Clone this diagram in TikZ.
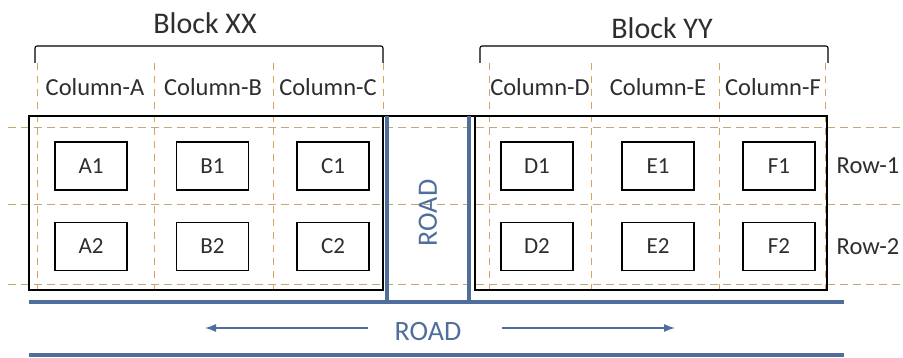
\documentclass[tikz,border=0pt]{standalone}
\usepackage{fontspec}
\setmainfont{Carlito}
\usetikzlibrary{arrows.meta}
\definecolor{roadblue}{HTML}{4F6E9C}
\definecolor{colorange}{HTML}{D9A25E}
\definecolor{rowtan}{HTML}{C4A878}
\definecolor{inkgrey}{HTML}{2E2E2E}
\tikzset{
  plot/.style={draw=black, line width=1.2pt, minimum width=72pt, minimum height=48pt, inner sep=0pt, text=inkgrey, font=\fontsize{23}{27}\selectfont},
  colline/.style={colorange, line width=0.9pt, dash pattern=on 7pt off 6pt},
  rowline/.style={rowtan, line width=0.9pt, dash pattern=on 8pt off 5pt},
  road/.style={roadblue, line width=4pt},
  roadarrow/.style={roadblue, line width=1.3pt, -{Latex[length=11pt,width=8pt]}},
  lbl/.style={text=inkgrey, font=\fontsize{24.5}{29}\selectfont, inner sep=0pt},
  blocklbl/.style={text=inkgrey, font=\fontsize{30}{35}\selectfont, inner sep=0pt},
  roadlbl/.style={text=roadblue, font=\fontsize{28}{33}\selectfont, inner sep=0pt}
}
\begin{document}
\begin{tikzpicture}[x=10pt,y=-10pt]
		\useasboundingbox[fill=white] (0,0) rectangle (90.3,35.8);
		% grid of rows and columns
		\foreach \y in {12.7,20.4,28.4}
			\draw[rowline] (0.8,\y) -- (90.3,\y);
		\foreach \x in {3.7,15.4,27.3,38.3,48.9,59.1,71.9,82.5}
			\draw[colline] (\x,6.3) -- (\x,29.3);
		
		% blocks
		\draw[line width=1.2pt] (2.9,11.6) rectangle (38.3,29.0);
		\draw[line width=1.2pt] (47.5,11.6) rectangle (82.7,29.0);
		\draw[line width=1.2pt] (38.3,11.6) -- (47.5,11.6);
		\draw[line width=1.1pt, rounded corners=2pt] (3.5,6.3) -- (3.5,4.6) -- (38.3,4.6) -- (38.3,6.3);
		\draw[line width=1.1pt, rounded corners=2pt] (48.0,6.3) -- (48.0,4.6) -- (82.8,4.6) -- (82.8,6.3);
		\node[blocklbl] (xx) at (20.5,2.3) {Block XX};
		\node[blocklbl] (yy) at (66.2,2.8) {Block YY};
		
		\node[lbl] (colA) at (9.5,8.7) {Column-A};
		\node[lbl] (colB) at (21.3,8.7) {Column-B};
		\node[lbl] (colC) at (32.8,8.7) {Column-C};
		\node[lbl] (colD) at (54.0,8.7) {Column-D};
		\node[lbl] (colE) at (65.8,8.7) {Column-E};
		\node[lbl] (colF) at (77.3,8.7) {Column-F};
		\node[lbl] (row1) at (86.8,16.6) {Row-1};
		\node[lbl] (row2) at (86.8,24.7) {Row-2};
		
		% plots
		\node[plot] (A1) at (9.1,16.6) {A1};
		\node[plot] (B1) at (21.25,16.6) {B1};
		\node[plot] (C1) at (33.3,16.6) {C1};
		\node[plot] (D1) at (53.7,16.6) {D1};
		\node[plot] (E1) at (65.8,16.6) {E1};
		\node[plot] (F1) at (77.9,16.6) {F1};
		\node[plot] (A2) at (9.1,24.65) {A2};
		\node[plot] (B2) at (21.25,24.65) {B2};
		\node[plot] (C2) at (33.3,24.65) {C2};
		\node[plot] (D2) at (53.7,24.65) {D2};
		\node[plot] (E2) at (65.8,24.65) {E2};
		\node[plot] (F2) at (77.9,24.65) {F2};
		
		% roads
		\draw[road] (38.7,11.6) -- (38.7,30.2);
		\draw[road] (46.9,11.6) -- (46.9,30.2);
		\draw[road] (2.9,30.2) -- (84.4,30.2);
		\draw[road] (2.9,35.5) -- (84.4,35.5);
		\node[roadlbl, rotate=90] (vroad) at (42.8,21.3) {ROAD};
		\node[roadlbl] (hroad) at (42.8,33.2) {ROAD};
		\coordinate (wl) at (20.5,32.8);
		\coordinate (wr) at (36.8,32.8);
		\coordinate (el) at (50.2,32.8);
		\coordinate (er) at (67.5,32.8);
		\draw[roadarrow] (wr) -- (wl);
		\draw[roadarrow] (el) -- (er);
\end{tikzpicture}
\end{document}
